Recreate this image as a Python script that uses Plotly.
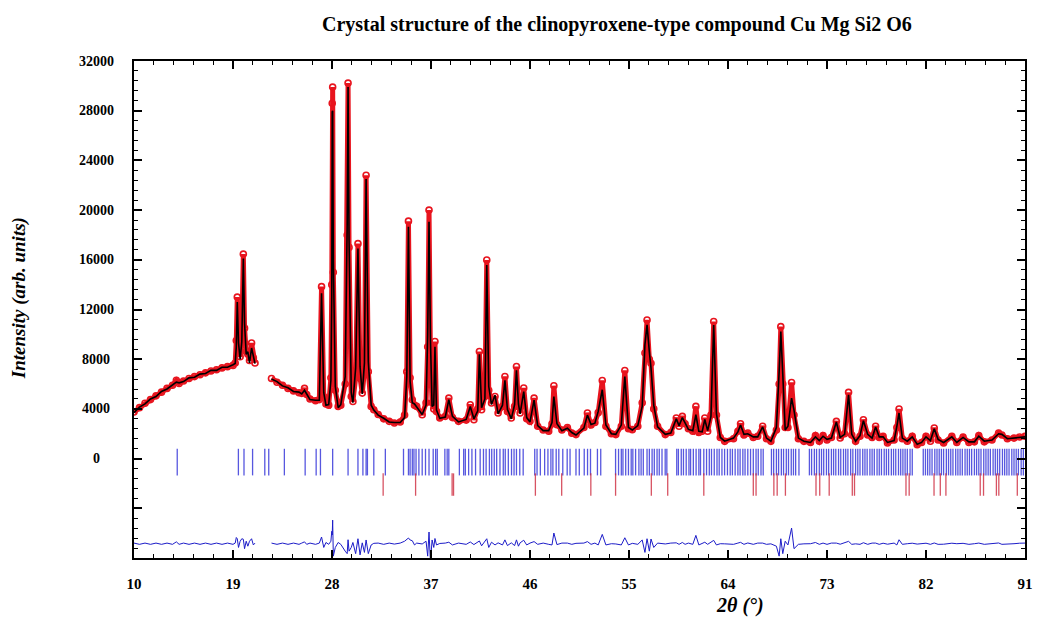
import plotly.graph_objects as go

# ---------------- data ----------------
# segment 1 of the profile: 2theta, observed, calculated
tt1 = [10.0, 10.5, 11.0, 11.5, 12.0, 12.5, 13.0, 13.5, 13.85, 14.1,
       14.5, 15.0, 15.5, 16.0, 16.5, 17.0, 17.5, 18.0, 18.5, 19.0,
       19.2, 19.3, 19.39, 19.5, 19.65, 19.8, 19.94, 20.05, 20.2, 20.35,
       20.5, 20.69, 20.85, 21.0]
obs1 = [3750, 4100, 4450, 4750, 5050, 5350, 5650, 5900, 6300, 6050,
        6250, 6450, 6600, 6750, 6900, 7050, 7150, 7300, 7400, 7500,
        7700, 9500, 13000, 9000, 8200, 9800, 16460, 10500, 8600, 8400,
        7900, 9300, 8100, 7700]
calc1 = [3700, 4150, 4400, 4800, 5000, 5400, 5600, 5950, 6150, 6100,
         6200, 6500, 6550, 6800, 6850, 7100, 7100, 7350, 7350, 7550,
         7650, 9000, 12600, 9300, 8000, 9400, 16100, 10900, 8400, 8600,
         7700, 8900, 8200, 7650]

# segment 2 of the profile
tt2 = [22.5, 23.0, 23.5, 24.0, 24.5, 25.0, 25.25, 25.5, 25.7, 26.0, 26.5, 26.85,
       27.05, 27.25, 27.45, 27.7, 27.9, 27.98, 28.02, 28.06, 28.12, 28.3, 28.56, 28.8,
       29.2, 29.38, 29.46, 29.55, 29.75, 29.9, 30.15, 30.36, 30.55, 30.75, 30.95, 31.1, 31.3, 31.56, 31.8,
       32.2, 32.7, 33.2, 33.67, 34.2, 34.6, 34.8, 34.95, 35.1, 35.3, 35.5, 35.7, 36.2, 36.55, 36.7, 36.82, 36.95, 37.1, 37.25, 37.36, 37.5, 37.8,
       38.3, 38.62, 38.95, 39.5, 40.2, 40.57, 40.9, 41.25, 41.4, 41.6, 41.9, 42.07, 42.25, 42.5, 42.82, 43.1, 43.5, 43.72, 43.95, 44.3, 44.6, 44.77, 44.95, 45.1, 45.43, 45.7, 46.0, 46.37,
       46.7, 47.2, 47.7, 48.0, 48.17, 48.45, 48.9, 49.4, 49.8, 50.18, 50.9, 51.22, 51.55, 51.9, 52.2, 52.57, 52.9, 53.4, 53.8, 54.3, 54.62, 54.95, 55.3,
       55.8, 56.2, 56.45, 56.64, 56.85, 57.0, 57.25, 57.6, 58.3, 58.8, 59.3, 59.55, 59.85, 60.1, 60.4, 60.8, 61.08, 61.35, 61.65, 61.89, 62.15, 62.45, 62.7, 62.95, 63.3, 63.7,
       64.5, 64.9, 65.14, 65.45, 65.8, 66.3, 66.7, 67.15, 67.5, 67.9, 68.4, 68.65, 68.8, 68.98, 69.2, 69.45, 69.78, 70.0, 70.4, 70.9,
       71.5, 71.95, 72.3, 72.64, 73.0, 73.4, 73.85, 74.2, 74.6, 74.96, 75.25, 75.6, 76.0, 76.31, 76.7, 77.1, 77.42, 77.75, 78.1, 78.5, 79.1, 79.35, 79.55, 79.85, 80.3, 80.75,
       81.2, 81.6, 82.0, 82.4, 82.75, 83.1, 83.6, 84.35, 84.8, 85.37, 85.9, 86.4, 86.8, 87.3, 88.0, 88.6, 88.9, 89.4, 90.0, 90.5, 91.0]
obs2 = [6450, 6150, 5900, 5650, 5450, 5300, 5250, 5650, 5150, 4800, 4650, 4750,
        13840, 5000, 4400, 4300, 6500, 14000, 28600, 29900, 15000, 5500, 4200, 4300,
        6000, 18000, 30220, 17000, 5000, 4600, 6500, 17300, 6500, 5270, 7000, 22800, 7000, 4200, 3930,
        3550, 3200, 3000, 2870, 2950, 3500, 7000, 19110, 6500, 4740, 4300, 4200, 3530, 4500, 9000, 20000, 8000, 4500, 4000, 9420, 3800, 3270,
        3400, 4870, 3300, 3000, 3100, 4340, 3130, 4000, 8620, 3930, 5000, 15980, 5500, 4470, 5000, 3670, 4200, 6610, 3800, 3270, 4200, 7410, 4200, 3670, 5680, 3200, 3000, 4870,
        2600, 2300, 2200, 2800, 5860, 2730, 2300, 2500, 2050, 1930, 2500, 3670, 2700, 2900, 3700, 6290, 2600, 2000, 1930, 2600, 7090, 2400, 2330,
        2600, 4500, 8500, 11160, 8000, 7680, 4000, 2600, 1930, 2100, 3270, 2600, 3400, 2800, 2400, 2200, 4200, 2100, 2200, 3270, 2200, 3500, 11030, 3500, 1700, 1390,
        1600, 2200, 2810, 1900, 2060, 1700, 1800, 2600, 1600, 1390, 2300, 6000, 10620, 6000, 2500, 2500, 6130, 3500, 1600, 1390,
        1300, 1850, 1400, 1850, 1500, 1700, 3000, 1660, 2000, 5330, 1900, 1390, 1800, 3130, 1900, 1700, 2600, 1700, 1790, 1260, 1500, 2500, 3990, 1600, 1400, 1790,
        1120, 1300, 1790, 1400, 2460, 1500, 1260, 1790, 1300, 1730, 1300, 1350, 1850, 1350, 1500, 2060, 1900, 1600, 1650, 1740, 1800]
calc2 = [6400, 6200, 5850, 5700, 5400, 5350, 5200, 5500, 5200, 4750, 4700, 4700,
         13300, 5300, 4300, 4350, 6300, 13000, 27900, 28000, 16000, 5800, 4100, 4350,
         6600, 18800, 29900, 17600, 5300, 4500, 7300, 16900, 7400, 5200, 7700, 22500, 7800, 4300, 3900,
         3500, 3250, 2950, 2900, 2900, 3300, 6600, 18650, 6200, 4500, 4400, 4150, 3550, 4300, 10000, 19060, 9500, 4200, 4300, 9000, 3900, 3250,
         3350, 4750, 3400, 2950, 3150, 4200, 3200, 3850, 8400, 4100, 4800, 15580, 5800, 4350, 5100, 3600, 4300, 6300, 3950, 3200, 4350, 7100, 4400, 3600, 5400, 3300, 2950, 4700,
         2650, 2250, 2250, 2900, 5000, 2800, 2250, 2450, 2100, 1900, 2450, 3500, 2750, 2850, 3800, 5540, 2700, 2000, 1950, 2700, 6610, 2500, 2300,
         2650, 4200, 9200, 10760, 8600, 7300, 4300, 2550, 1950, 2050, 3200, 2650, 3300, 2850, 2350, 2250, 3530, 2200, 2150, 3150, 2250, 3400, 10760, 3600, 1700, 1400,
         1650, 2150, 2700, 1950, 2000, 1750, 1750, 2550, 1650, 1400, 2500, 7000, 10220, 6800, 2300, 2600, 4870, 3900, 1650, 1400,
         1300, 1750, 1450, 1800, 1550, 1650, 2950, 1700, 1950, 5140, 1950, 1400, 1850, 3050, 1950, 1650, 2550, 1750, 1750, 1300, 1450, 2600, 3670, 1650, 1400, 1750,
         1150, 1300, 1750, 1450, 2400, 1550, 1300, 1750, 1300, 1700, 1350, 1350, 1800, 1400, 1500, 2000, 1950, 1600, 1650, 1700, 1750]

# Bragg reflection positions (2theta) of the two phases
bragg_phase1 = [13.93, 19.49, 20.0, 20.78, 21.89, 22.25, 23.67, 25.56, 26.56, 26.95, 28.06, 29.46, 30.36,
                30.81, 31.1, 31.22, 31.8, 32.85, 34.5, 34.95, 35.1, 35.3, 35.45, 35.64, 35.9, 36.2, 36.5,
                36.82, 37.2, 37.42, 37.57, 38.26, 38.47, 38.62, 39.58, 39.97, 40.12, 40.42, 40.72, 41.05,
                41.47, 41.77, 42.01, 42.31, 42.52, 42.75, 42.97, 43.27, 43.57, 43.75, 44.03, 44.32, 44.55,
                44.77, 45.07, 45.38, 46.43, 46.64, 46.94, 47.33, 47.63, 47.9, 48.08, 48.38, 48.62, 48.98,
                49.38, 49.64, 50.18, 50.48, 50.93, 51.23, 51.5, 52.13, 52.43, 53.78, 54.05, 54.3, 54.45,
                54.7, 54.95, 55.2, 55.35, 55.6, 55.9, 56.1, 56.3, 56.64, 56.85, 57.1, 57.3, 57.55, 57.75,
                58.0, 58.29, 58.44, 59.34, 59.49, 59.75, 59.95, 60.2, 60.45, 60.6, 60.85, 61.1, 61.35,
                61.5, 61.8, 62.05, 62.3, 62.5, 62.75, 63.0, 63.2, 63.45, 63.69, 63.95, 64.2, 64.4, 64.65,
                64.9, 65.1, 65.35, 65.55, 65.8, 66.05, 66.3, 66.55, 66.75, 67.0, 67.2, 67.95, 68.15, 68.4,
                68.6, 68.85, 69.05, 69.3, 69.5, 69.75, 69.95, 70.15, 70.45, 71.4, 71.6, 71.85, 72.05, 72.3,
                72.5, 72.7, 72.95, 73.15, 73.4, 73.6, 73.8, 74.05, 74.25, 74.5, 74.7, 74.9, 75.15, 75.35,
                75.6, 75.8, 76.0, 76.25, 76.45, 76.65, 76.9, 77.1, 77.3, 77.55, 77.75, 77.95, 78.2, 78.4,
                78.6, 78.85, 79.05, 79.25, 79.5, 79.7, 79.9, 80.1, 80.3, 80.55, 80.75, 81.75, 81.95, 82.15,
                82.35, 82.55, 82.8, 83.0, 83.2, 83.4, 83.6, 83.85, 84.05, 84.25, 84.45, 84.7, 84.9, 85.1,
                85.3, 85.55, 85.75, 85.95, 86.15, 86.4, 86.6, 86.8, 87.0, 87.25, 87.45, 87.65, 87.85, 88.1,
                88.3, 88.5, 88.7, 88.95, 89.15, 89.35, 89.55, 89.8, 90.0, 90.2, 90.4, 90.65, 90.85]
bragg_phase2 = [32.65, 35.6, 38.92, 39.05, 46.49, 48.88, 51.53, 53.78, 57.03, 58.52, 61.8, 66.3, 66.55,
                68.17, 68.47, 69.22, 72.0, 72.34, 73.2, 75.3, 75.5, 80.18, 80.47, 82.73, 83.3, 83.81,
                86.93, 87.23, 88.4, 88.62, 90.3]

x_tick_values = [10, 19, 28, 37, 46, 55, 64, 73, 82, 91]
y_tick_labels = [0, 4000, 8000, 12000, 16000, 20000, 24000, 28000, 32000]

title_text = "Crystal structure of the clinopyroxene-type compound Cu Mg Si2 O6"
y_title = "Intensity (arb. units)"
x_title = "2θ (°)"

# ---------------- styling constants ----------------
DIFF_OFFSET = -6850
BRAGG1_Y = -280
BRAGG2_Y = -2090
SERIF = "Liberation Serif, Times New Roman, serif"

assert len(tt1) == len(obs1) == len(calc1)
assert len(tt2) == len(obs2) == len(calc2), (len(tt2), len(obs2), len(calc2))

tt_all = tt1 + [None] + tt2
obs_all = obs1 + [None] + obs2
calc_all = calc1 + [None] + calc2
diff_all = [None if o is None else o - c + DIFF_OFFSET for o, c in zip(obs_all, calc_all)]

fig = go.Figure()
# observed (dense band + circles)
fig.add_trace(go.Scatter(x=tt_all, y=obs_all, mode="lines",
                         line=dict(color="#e8141e", width=5), hoverinfo="skip", showlegend=False))
fig.add_trace(go.Scatter(x=tt_all, y=obs_all, mode="markers", name="Yobs",
                         marker=dict(symbol="circle-open", size=6, color="#e8141e",
                                     line=dict(width=1.6, color="#e8141e")), showlegend=False))
# calculated
fig.add_trace(go.Scatter(x=tt_all, y=calc_all, mode="lines", name="Ycalc",
                         line=dict(color="black", width=1.6), showlegend=False))
# difference
fig.add_trace(go.Scatter(x=tt_all, y=diff_all, mode="lines", name="Yobs-Ycalc",
                         line=dict(color="#1c1cc8", width=1), showlegend=False))
# Bragg positions
fig.add_trace(go.Scatter(x=bragg_phase1, y=[BRAGG1_Y] * len(bragg_phase1), mode="markers",
                         name="Bragg phase 1",
                         marker=dict(symbol="line-ns", size=19,
                                     line=dict(width=1.3, color="rgba(45,45,215,0.8)")),
                         showlegend=False))
fig.add_trace(go.Scatter(x=bragg_phase2, y=[BRAGG2_Y] * len(bragg_phase2), mode="markers",
                         name="Bragg phase 2",
                         marker=dict(symbol="line-ns", size=16,
                                     line=dict(width=1.3, color="rgba(205,40,60,0.8)")),
                         showlegend=False))

annotations = []
for v in y_tick_labels:
    annotations.append(dict(x=-0.0423, xref="paper", y=v, yref="y", text=str(v),
                            showarrow=False, xanchor="center", yanchor="middle",
                            font=dict(family=SERIF, size=14, color="black", weight="bold")))
annotations.append(dict(x=0.542, xref="paper", y=1.1, yref="paper", text=title_text,
                        showarrow=False, xanchor="center", yanchor="top",
                        font=dict(family=SERIF, size=20, color="black", weight="bold")))
annotations.append(dict(x=-0.129, xref="paper", y=0.523, yref="paper", text=f"<i>{y_title}</i>",
                        showarrow=False, xanchor="center", yanchor="middle", textangle=-90,
                        font=dict(family=SERIF, size=19, color="black", weight="bold")))
annotations.append(dict(x=0.680, xref="paper", y=-0.096, yref="paper", text=f"<i>{x_title}</i>",
                        showarrow=False, xanchor="center", yanchor="middle",
                        font=dict(family=SERIF, size=20, color="black", weight="bold")))

# the page body adds an 8 px margin, so the figure is sized to sit inside it
fig.update_layout(
    width=1033, height=614,
    margin=dict(l=126, r=8, t=53, b=64),
    paper_bgcolor="white", plot_bgcolor="white",
    annotations=annotations,
    xaxis=dict(range=[10, 91], tickvals=x_tick_values, ticks="inside", ticklen=8, tickwidth=1.5,
               tickcolor="black", showline=True, linecolor="black", linewidth=2, mirror="ticks",
               showgrid=False, zeroline=False,
               tickfont=dict(family=SERIF, size=15, color="black", weight="bold"),
               ticklabelstandoff=11,
               minor=dict(tick0=10, dtick=1.8, ticks="inside", ticklen=4, tickwidth=1,
                          tickcolor="black", showgrid=False)),
    yaxis=dict(range=[-8000, 32000], tick0=0, dtick=4000, ticks="inside", ticklen=8, tickwidth=1.5,
               tickcolor="black", showline=True, linecolor="black", linewidth=2, mirror="ticks",
               showgrid=False, zeroline=False, showticklabels=False,
               minor=dict(tick0=0, dtick=800, ticks="inside", ticklen=4, tickwidth=1,
                          tickcolor="black", showgrid=False)),
)

fig.write_html("out.html")
